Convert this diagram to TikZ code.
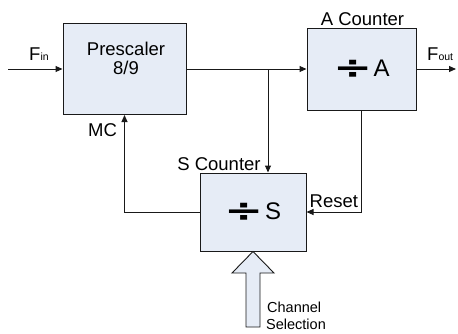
\documentclass[tikz,border=0pt]{standalone}
\usepackage{fontspec}
\usepackage{graphicx}
\setmainfont{Liberation Sans}
\newfontfamily\dvfont{DejaVu Sans}
\usetikzlibrary{arrows.meta,calc}
\definecolor{boxfill}{RGB}{230,236,246}
\definecolor{linec}{RGB}{25,25,25}
\newcommand\dvsym{\raisebox{-2pt}{\scalebox{1.95}[1.3]{\dvfont\bfseries ÷}}}
\begin{document}
\begin{tikzpicture}[x=1pt,y=-1pt,
  box/.style={draw=linec, line width=1pt, fill=boxfill, inner sep=0pt},
  conn/.style={draw=linec, line width=1pt},
  arr/.style={conn, -{Triangle[length=7pt,width=6pt]}},
  lbl/.style={inner sep=0pt, font=\fontsize{18.5}{19}\selectfont},
  big/.style={font=\fontsize{24}{24}\selectfont},
  sub/.style={inner sep=0pt, font=\fontsize{14.5}{15}\selectfont}]
\useasboundingbox (0,0) rectangle (458,333);
% boxes
\node[box, minimum width=123pt, minimum height=91pt] (pre) at (124.5,69) {};
\node[box, big, minimum width=109pt, minimum height=82pt] (acnt) at (361.5,69) {\dvsym\kern1pt A};
\node[box, big, minimum width=106pt, minimum height=78pt] (scnt) at (253,212) {\dvsym\kern1pt S};
% texts
\node[lbl, anchor=base] (pretxt) at (126,55) {Prescaler};
\node[lbl, anchor=base] (pretxtb) at (126,74) {8/9};
\node[lbl, anchor=base] (alab) at (362.5,25) {A Counter};
\node[lbl, anchor=base] (slab) at (219,170) {S Counter};
\node[lbl, anchor=base] (mclab) at (102.5,136) {MC};
\node[lbl, anchor=base west] (rlab) at (309.5,207) {Reset};
\node[lbl, anchor=base west] (finlab) at (29,60) {F{\fontsize{10.5}{11}\selectfont in}};
\node[lbl, anchor=base west] (foutlab) at (427,60) {F{\fontsize{10.5}{11}\selectfont out}};
\node[sub, anchor=base west] (ch1) at (267,312) {Channel};
\node[sub, anchor=base west] (ch2) at (266,329) {Selection};
% coordinates
\coordinate (fin) at (8,69);
\coordinate (fout) at (456,69);
\coordinate (j) at (268,69);
% connectors
\draw[arr] (fin) -- (pre.west);
\draw[arr] (pre.east) -- (acnt.west);
\draw[arr] (j) -- (j |- scnt.north);
\draw[arr] (acnt.east) -- (fout);
\draw[arr] (acnt.south) |- (scnt.east);
\draw[arr] (scnt.west) -| (pre.south);
% channel selection hollow arrow
\draw[draw=linec, line width=0.9pt, fill=boxfill, line join=miter]
  (scnt.south) -- ++(21,21.5) -- ++(-14,0) -- ++(0,54) -- ++(-14,0)
  -- ++(0,-54) -- ++(-14,0) -- cycle;
\end{tikzpicture}
\end{document}
